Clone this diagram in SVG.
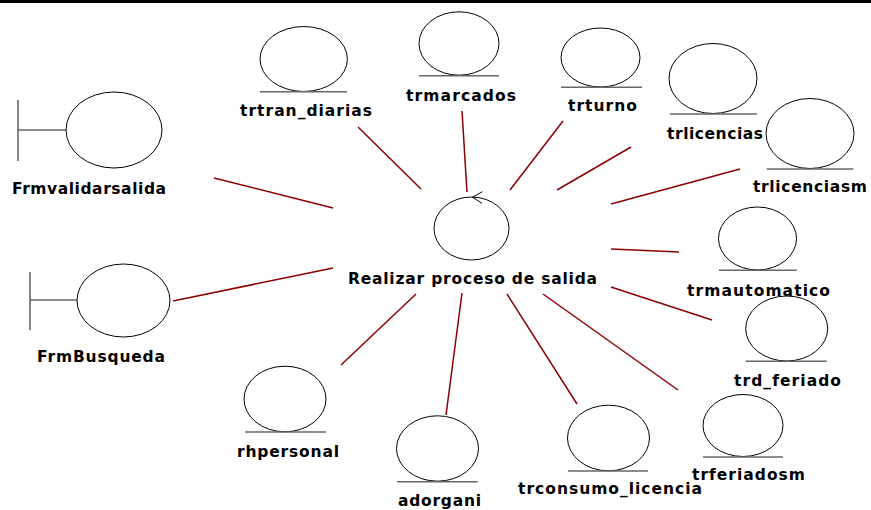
<svg xmlns="http://www.w3.org/2000/svg" width="871" height="510" viewBox="0 0 871 510">
<style>
.n{fill:#fff;stroke:#000;stroke-width:1}
.u{stroke:#666;stroke-width:1.6;fill:none}
.c{stroke:#8b0000;stroke-width:1.5;fill:none}
text{font-family:"DejaVu Sans","Verdana",sans-serif;font-weight:bold;font-size:15.5px;fill:#000}
</style>
<rect x="0" y="0" width="871" height="3" fill="#000"/>
<g id="connectors">
<line class="c" x1="214" y1="178" x2="333" y2="208"/>
<line class="c" x1="358" y1="127" x2="421" y2="189"/>
<line class="c" x1="462" y1="111" x2="467" y2="192"/>
<line class="c" x1="563" y1="121" x2="510" y2="190"/>
<line class="c" x1="631" y1="147" x2="557" y2="190"/>
<line class="c" x1="740" y1="169" x2="611" y2="204"/>
<line class="c" x1="611" y1="249" x2="679" y2="252"/>
<line class="c" x1="611" y1="287" x2="712" y2="320"/>
<line class="c" x1="543" y1="294" x2="678" y2="390"/>
<line class="c" x1="507" y1="294" x2="577" y2="404"/>
<line class="c" x1="462" y1="293" x2="446" y2="415"/>
<line class="c" x1="416" y1="294" x2="341" y2="365"/>
<line class="c" x1="173" y1="301" x2="333" y2="268"/>
</g>
<g id="Frmvalidarsalida">
<line class="u" x1="18" y1="100" x2="18" y2="161"/>
<line class="u" x1="18" y1="130" x2="66" y2="130"/>
<ellipse class="n" cx="114" cy="130" rx="48" ry="38"/>
<text x="12" y="194" textLength="154" lengthAdjust="spacing">Frmvalidarsalida</text>
</g>
<g id="FrmBusqueda">
<line class="u" x1="30" y1="272" x2="30" y2="330"/>
<line class="u" x1="30" y1="300" x2="77" y2="300"/>
<ellipse class="n" cx="123.5" cy="300.5" rx="46.5" ry="36.5"/>
<text x="37" y="362" textLength="128" lengthAdjust="spacing">FrmBusqueda</text>
</g>
<g id="Realizar">
<ellipse class="n" cx="471.5" cy="228.5" rx="37.5" ry="31.5"/>
<polyline fill="none" stroke="#000" stroke-width="1" points="482.5,191.7 472.5,197.2 482,203.3"/>
<text x="348" y="284" textLength="249" lengthAdjust="spacing">Realizar proceso de salida</text>
</g>
<g id="trtran_diarias">
<ellipse class="n" cx="303.7" cy="59" rx="43.7" ry="32.5"/>
<line class="u" x1="260" y1="91.7" x2="347" y2="91.7"/>
<text x="240" y="116" textLength="132" lengthAdjust="spacing">trtran_diarias</text>
</g>
<g id="trmarcados">
<ellipse class="n" cx="459" cy="43.5" rx="40" ry="31.7"/>
<line class="u" x1="419" y1="75.7" x2="499" y2="75.7"/>
<text x="406" y="101" textLength="110" lengthAdjust="spacing">trmarcados</text>
</g>
<g id="trturno">
<ellipse class="n" cx="600.5" cy="57.5" rx="39.5" ry="29.5"/>
<line class="u" x1="561" y1="87.3" x2="642" y2="87.3"/>
<text x="568" y="111" textLength="69" lengthAdjust="spacing">trturno</text>
</g>
<g id="trlicencias">
<ellipse class="n" cx="713" cy="78.5" rx="44" ry="35"/>
<line class="u" x1="670" y1="114" x2="757" y2="114"/>
<text x="667" y="139" textLength="96" lengthAdjust="spacing">trlicencias</text>
</g>
<g id="trlicenciasm">
<ellipse class="n" cx="810" cy="133.5" rx="44" ry="35"/>
<line class="u" x1="766.7" y1="169" x2="853.3" y2="169"/>
<text x="753" y="192" textLength="114" lengthAdjust="spacing">trlicenciasm</text>
</g>
<g id="trmautomatico">
<ellipse class="n" cx="757.5" cy="238.5" rx="39" ry="31.5"/>
<line class="u" x1="719" y1="270.3" x2="796.7" y2="270.3"/>
<text x="687" y="296" textLength="143" lengthAdjust="spacing">trmautomatico</text>
</g>
<g id="trd_feriado">
<ellipse class="n" cx="786.7" cy="328.5" rx="41" ry="32.5"/>
<line class="u" x1="745.7" y1="361.3" x2="826.7" y2="361.3"/>
<text x="734" y="386" textLength="107" lengthAdjust="spacing">trd_feriado</text>
</g>
<g id="trferiadosm">
<ellipse class="n" cx="743" cy="425.5" rx="40" ry="31"/>
<line class="u" x1="703" y1="457" x2="783" y2="457"/>
<text x="692" y="480" textLength="113" lengthAdjust="spacing">trferiadosm</text>
</g>
<g id="trconsumo_licencia">
<ellipse class="n" cx="608.5" cy="438" rx="41" ry="32.8"/>
<line class="u" x1="568" y1="471" x2="648" y2="471"/>
<text x="518" y="494" textLength="184" lengthAdjust="spacing">trconsumo_licencia</text>
</g>
<g id="adorgani">
<ellipse class="n" cx="437.5" cy="448.5" rx="41" ry="32.7"/>
<line class="u" x1="397" y1="481.7" x2="477.7" y2="481.7"/>
<text x="398" y="506" textLength="83" lengthAdjust="spacing">adorgani</text>
</g>
<g id="rhpersonal">
<ellipse class="n" cx="285" cy="399" rx="41" ry="32.8"/>
<line class="u" x1="245" y1="432" x2="326" y2="432"/>
<text x="237" y="457" textLength="102" lengthAdjust="spacing">rhpersonal</text>
</g>
</svg>
